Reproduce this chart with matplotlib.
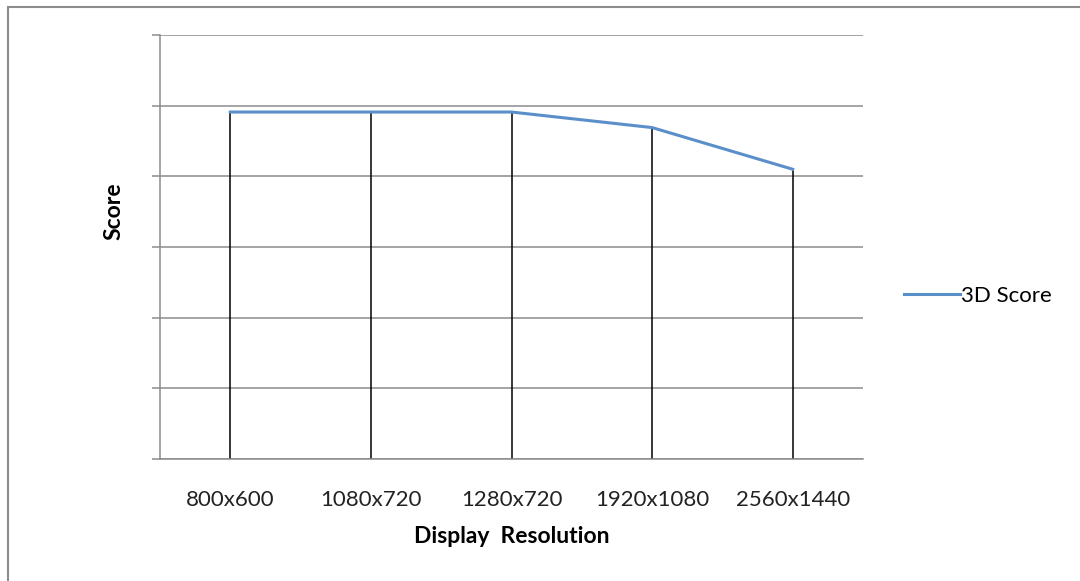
import matplotlib.pyplot as plt
from matplotlib.patches import Rectangle

# Benchmark results by display resolution
resolutions = ["800x600", "1080x720", "1280x720", "1920x1080", "2560x1440"]
score_3d = [4.91, 4.91, 4.91, 4.69, 4.10]

plt.rcParams['font.family'] = ['Lato', 'DejaVu Sans']

fig = plt.figure(figsize=(10.8, 5.81), dpi=100)
ax = fig.add_axes([160 / 1080, 122 / 581, 703 / 1080, 424 / 581])

x = list(range(len(resolutions)))

# drop lines from each point down to the axis
ax.vlines(x, 0, score_3d, color='black', linewidth=1.1, zorder=2)
ax.plot(x, score_3d, color='#5B8FC9', linewidth=2.2, label='3D Score', zorder=3)

ax.set_xlim(-0.5, len(resolutions) - 0.5)
ax.set_ylim(0, 6)
ax.set_yticks(range(7))
ax.set_yticklabels([])
ax.yaxis.grid(True, color='#8c8c8c', linewidth=1.1)
ax.set_axisbelow(True)

ax.set_xticks(x)
ax.set_xticklabels(resolutions, fontsize=16, color='#222222')
ax.tick_params(axis='x', length=0, pad=22)
ax.tick_params(axis='y', length=6, width=1.1, color='#8c8c8c')

for side in ['top', 'right']:
    ax.spines[side].set_visible(False)
ax.spines['left'].set_color('#8c8c8c')
ax.spines['left'].set_linewidth(1.1)
ax.spines['bottom'].set_color('#8c8c8c')
ax.spines['bottom'].set_linewidth(1.1)

ax.set_xlabel('Display  Resolution', fontsize=16.5, fontweight='bold', labelpad=12)
ax.set_ylabel('Score', fontsize=16.5, fontweight='bold')
ax.yaxis.set_label_coords(-0.05, 0.585)

leg = ax.legend(loc='center left', bbox_to_anchor=(1.03, 0.385), frameon=False,
                fontsize=16, handlelength=2.5, handletextpad=0.05)

# chart border
fig.patches.append(Rectangle((7.5 / 1080, -0.1), 1.2, 1.1 - 6.5 / 581,
                             transform=fig.transFigure, fill=False,
                             edgecolor='#8c8c8c', linewidth=1.5))

fig.savefig('out.png', dpi=100)
